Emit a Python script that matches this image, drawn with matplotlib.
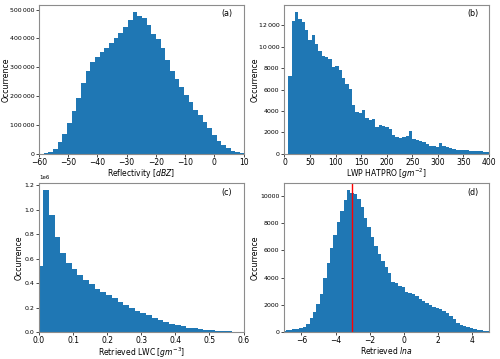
import numpy as np
import matplotlib
matplotlib.use("Agg")
import matplotlib.pyplot as plt
from matplotlib.ticker import FuncFormatter, MultipleLocator

# (a) reflectivity histogram, bins of 1.6 dBZ starting at -60
refl_start, refl_width = -60.0, 1.6
refl_counts = [1000, 3500, 8000, 18000, 41500, 70000, 106000, 148000, 193000,
               245000, 287000, 317000, 336000, 352000, 367000, 383000, 400000,
               417500, 438000, 462500, 491000, 478000, 470000, 448000, 416000,
               399000, 367000, 324000, 286000, 258000, 232000, 205000, 180000,
               153000, 134000, 111000, 88000, 65000, 45000, 30000, 18500,
               11500, 7000, 3500]

# (b) LWP HATPRO
lwp_start, lwp_width = 7.5, 6.55
lwp_counts = [7300, 12400, 13250, 12650, 12300, 11550, 10650, 11100, 10250,
              9650, 9100, 9050, 8850, 8100, 8200, 7850, 7050, 6500, 6100,
              4550, 3950, 3850, 4100, 3350, 3150, 3300, 2550, 2650, 2580,
              2500, 2300, 1800, 1550, 1520, 1550, 1650, 2100, 1400, 1250,
              1200, 1150, 950, 750, 700, 650, 1000, 700, 650, 550, 450, 400,
              380, 360, 330, 300, 270, 250, 220, 200, 180]

# (c) retrieved LWC (x1e6)
lwc_start, lwc_width = -0.0048, 0.0168
lwc_counts = [0.54, 1.16, 0.96, 0.78, 0.65, 0.567, 0.515, 0.468, 0.427, 0.392,
              0.356, 0.329, 0.304, 0.277, 0.247, 0.222, 0.195, 0.175, 0.158,
              0.137, 0.112, 0.096, 0.079, 0.068, 0.058, 0.047, 0.036, 0.030,
              0.022, 0.016, 0.014, 0.011, 0.008, 0.006, 0.004, 0.003]

# (d) retrieved ln a
lna_start, lna_width = -7.13, 0.2
lna_counts = [100, 120, 150, 190, 240, 300, 400, 600, 1000, 1460, 2070, 2800,
              3950, 5070, 6200, 7100, 8100, 8900, 9700, 10400, 10200, 10100,
              9800, 9150, 8400, 7700, 7000, 6350, 5700, 5250, 4750, 4300,
              3700, 3600, 3400, 3300, 2950, 2880, 2830, 2630, 2460, 2290,
              2150, 2020, 1850, 1780, 1680, 1540, 1410, 1170, 930, 680, 540,
              440, 340, 270, 195, 150, 120, 100, 90]
lna_mark = -3.06


def edges(start, width, n):
    return start + width * np.arange(n + 1)


def spaced(v, pos):
    v = int(round(v))
    if v >= 10000:
        return f"{v:,}".replace(",", "\u2009")
    return str(v)


plt.rcParams['font.family'] = 'DejaVu Sans'
plt.rcParams['mathtext.fontset'] = 'dejavusans'

fig, axs = plt.subplots(2, 2, figsize=(5.0, 3.59), dpi=100)
fig.subplots_adjust(left=0.078, right=0.978, bottom=0.075, top=0.986,
                    wspace=0.2, hspace=0.198)

panels = [
    (axs[0, 0], refl_start, refl_width, np.array(refl_counts), (-60, 10),
     "Reflectivity [$dBZ$]", "(a)", -0.137),
    (axs[0, 1], lwp_start, lwp_width, np.array(lwp_counts), (0, 400),
     "LWP HATPRO [$gm^{-2}$]", "(b)", -0.122),
    (axs[1, 0], lwc_start, lwc_width, np.array(lwc_counts) * 1e6, (0, 0.6),
     "Retrieved LWC [$gm^{-3}$]", "(c)", -0.073),
    (axs[1, 1], lna_start, lna_width, np.array(lna_counts), (-7, 5),
     "Retrieved $lna$", "(d)", -0.122),
]

for ax, start, width, counts, xlim, xlabel, tag, ylx in panels:
    e = edges(start, width, len(counts))
    ax.hist(e[:-1], bins=e, weights=counts, color='#1f77b4')
    ax.set_xlim(*xlim)
    ax.set_xlabel(xlabel, fontsize=5.5, labelpad=0)
    ax.set_ylabel("Occurrence", fontsize=5.6)
    ax.yaxis.set_label_coords(ylx, 0.5)
    ax.text(0.92, 0.94, tag, transform=ax.transAxes, fontsize=5.8,
            ha='center', va='center')
    ax.tick_params(axis='x', labelsize=5.5, length=2, width=0.5, pad=1)
    ax.tick_params(axis='y', labelsize=4.5, length=2, width=0.5, pad=1.5)
    ax.yaxis.get_offset_text().set_fontsize(4)
    for s in ax.spines.values():
        s.set_color('0.55')
        s.set_linewidth(0.8)

axs[0, 0].xaxis.set_major_locator(MultipleLocator(10))
axs[0, 0].yaxis.set_major_locator(MultipleLocator(100000))
axs[0, 0].yaxis.set_major_formatter(FuncFormatter(spaced))
axs[0, 1].xaxis.set_major_locator(MultipleLocator(50))
axs[0, 1].yaxis.set_major_locator(MultipleLocator(2000))
axs[0, 1].yaxis.set_major_formatter(FuncFormatter(spaced))
axs[1, 0].xaxis.set_major_locator(MultipleLocator(0.1))
axs[1, 1].xaxis.set_major_locator(MultipleLocator(2))
axs[1, 1].yaxis.set_major_locator(MultipleLocator(2000))
axs[1, 1].axvline(lna_mark, color='red', linewidth=1)

fig.savefig("out.png", dpi=100)
